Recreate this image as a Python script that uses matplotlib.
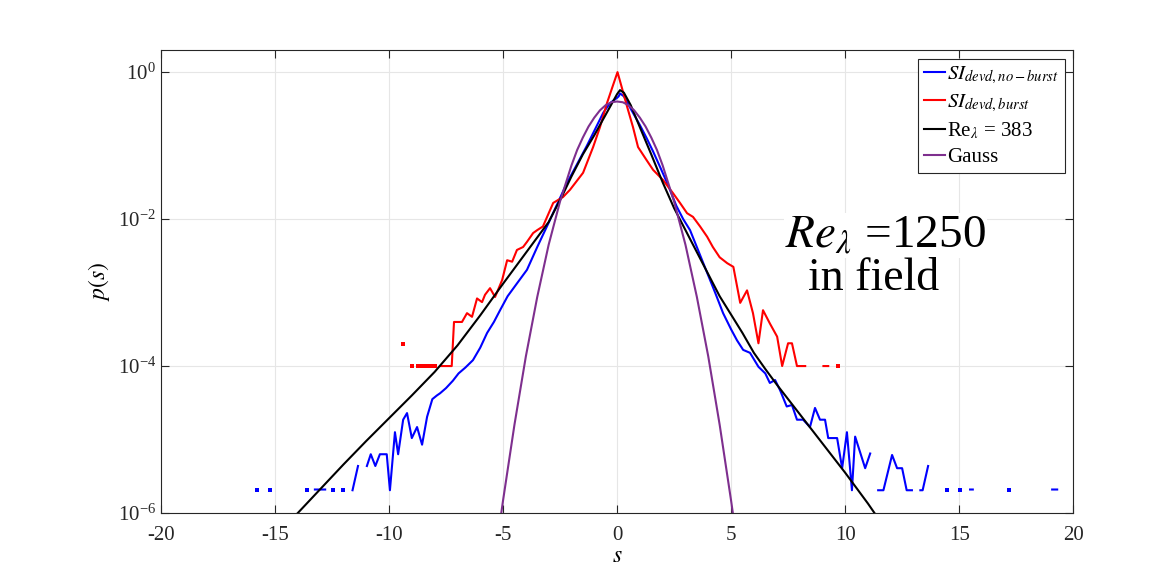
import numpy as np
import matplotlib
matplotlib.use('Agg')
import matplotlib.pyplot as plt

plt.rcParams['font.family'] = ['Liberation Serif', 'DejaVu Serif']
plt.rcParams['mathtext.fontset'] = 'stix'
plt.rcParams['axes.unicode_minus'] = False

nan = np.nan

# SI_devd, no-burst (blue) -- s, log10 p(s); nan = gap
blue_s = [-15.8, nan, -15.2, nan, -13.6, nan, -13.25, -13.0, -12.8, nan, -12.46, nan, -12.0, nan,
          -11.6, -11.36, nan, -10.97, -10.8, -10.6, -10.4, -10.1, -9.96, -9.74, -9.6, -9.38,
          -9.21, -9.0, -8.77, -8.55, -8.33, -8.1, -7.9, -7.76, -7.5, -7.2, -6.95, -6.65,
          -6.32, -6.0, -5.7, -5.4, -5.13, -4.8, -4.4, -3.95, -3.5, -3.0, -2.6, -2.2, -1.8,
          -1.32, -1.0, -0.6, -0.3, 0.0, 0.07, 0.13, 0.3, 0.6, 1.0, 1.3, 1.58, 1.9, 2.2, 2.6,
          2.9, 3.2, 3.55, 3.95, 4.3, 4.65, 5.0, 5.26, 5.53, 5.83, 6.2, 6.5, 6.7, 6.93, 7.15,
          7.44, 7.67, 7.89, 8.16, 8.46, 8.68, 8.9, 9.12, 9.26, 9.65, 9.87, 10.08, 10.3, 10.44,
          10.88, 11.1, nan, 11.45, 11.68, 12.06, 12.28, 12.5, 12.7, 12.93, nan, 13.3, 13.4,
          13.64, nan, 14.47, nan, 15.04, nan, 15.48, 15.6, nan, 17.2, nan, 19.08, 19.3]
blue_logp = [-5.68, nan, -5.68, nan, -5.68, nan, -5.68, -5.68, -5.68, nan, -5.68, nan, -5.68, nan,
             -5.69, -5.36, nan, -5.36, -5.2, -5.36, -5.2, -5.2, -5.69, -4.9, -5.2, -4.73,
             -4.64, -4.98, -4.83, -5.07, -4.69, -4.45, -4.4, -4.37, -4.3, -4.2, -4.1, -4.02,
             -3.92, -3.75, -3.55, -3.4, -3.24, -3.05, -2.88, -2.69, -2.38, -2.05, -1.78, -1.51, -1.28,
             -1.0, -0.8, -0.55, -0.42, -0.35, -0.33, -0.29, -0.33, -0.5, -0.72, -0.9, -1.08, -1.3, -1.51, -1.82,
             -2.0, -2.15, -2.42, -2.73, -3.0, -3.28, -3.5, -3.65, -3.78, -3.82, -4.01, -4.1, -4.23, -4.19, -4.33,
             -4.55, -4.53, -4.73, -4.73, -4.83, -4.57, -4.73, -4.73, -4.98, -4.98, -5.39, -4.9, -5.69, -4.96,
             -5.39, -5.19, nan, -5.69, -5.69, -5.21, -5.39, -5.39, -5.69, -5.69, nan, -5.69, -5.69,
             -5.36, nan, -5.68, nan, -5.68, nan, -5.68, -5.68, nan, -5.68, nan, -5.68, -5.68]

# SI_devd, burst (red)
red_s = [-9.4, nan, -9.0, nan, -8.75, nan, -8.6, nan, -8.45, nan, -8.3, nan, -8.15, nan, -8.0, nan,
         -7.76, -7.5, -7.25, -7.15, -7.02, -6.8, -6.58, -6.36, -6.14, -5.92, -5.79, -5.57, -5.35,
         -5.04, -4.82, -4.6, -4.39, -4.12, -3.95, -3.68, -3.5, -3.25, -2.8, -2.37, -2.06, -1.49,
         -1.05, -0.75, -0.44, -0.2, 0.02, 0.2, 0.44, 0.7, 0.92, 1.3, 1.58, 2.02, 2.46, 2.76, 3.07,
         3.33, 3.64, 3.95, 4.2, 4.5, 4.83, 5.1, 5.4, 5.7, 5.96, 6.2, 6.4, 6.7, 7.02, 7.24, 7.5,
         7.67, 7.89, 8.25, nan, 9.05, 9.26, nan, 9.7]
red_logp = [-3.7, nan, -4.0, nan, -4.0, nan, -4.0, nan, -4.0, nan, -4.0, nan, -4.0, nan, -4.0, nan,
            -4.0, -4.0, -4.0, -3.4, -3.4, -3.4, -3.28, -3.33, -3.08, -3.13, -3.03, -2.94, -3.06,
            -2.83, -2.56, -2.58, -2.42, -2.38, -2.31, -2.19, -2.15, -2.1, -1.78, -1.7, -1.6, -1.37,
            -1.02, -0.75, -0.42, -0.2, 0.0, -0.2, -0.47, -0.75, -1.02, -1.2, -1.33, -1.47, -1.65, -1.78, -1.92,
            -1.97, -2.1, -2.24, -2.38, -2.52, -2.6, -2.65, -3.14, -2.97, -3.28, -3.69, -3.24, -3.42, -3.6, -4.0, -3.69,
            -3.69, -4.0, -4.0, nan, -4.0, -4.0, nan, -4.0]

# Re_lambda = 383 (black)
black_s = [-14.2, -14, -13, -12, -11, -10, -9, -8, -7, -6, -5, -4, -3, -2.4, -2, -1.5, -1, -0.5,
           0, 0.13, 0.3, 0.6, 1, 1.5, 2, 2.5, 3, 3.5, 4, 4.5, 5, 5.5, 6, 6.5, 7, 8, 9, 10, 11, 11.4]
black_logp = [-6.06, -6.0, -5.67, -5.34, -5.02, -4.71, -4.4, -4.08, -3.72, -3.31, -2.88, -2.46, -2.04,
              -1.68, -1.42, -1.12, -0.86, -0.58, -0.3, -0.245, -0.28, -0.45, -0.75, -1.12, -1.5, -1.85,
              -2.15, -2.45, -2.75, -3.05, -3.3, -3.55, -3.82, -4.04, -4.25, -4.65, -5.05, -5.45, -5.87, -6.05]

# Gauss (purple)
gauss_s = [-5.1, -5.0, -4.5, -4.0, -3.5, -3.0, -2.5, -2.0, -1.75, -1.5, -1.25, -1.0, -0.75, -0.5,
           -0.25, 0.0, 0.25, 0.5, 0.75, 1.0, 1.25, 1.5, 1.75, 2.0, 2.5, 3.0, 3.5, 4.0, 4.5, 5.0, 5.1]
gauss_logp = [-6.05, -5.83, -4.80, -3.87, -3.06, -2.35, -1.76, -1.27, -1.06, -0.89, -0.74, -0.62,
              -0.52, -0.45, -0.41, -0.40, -0.41, -0.45, -0.52, -0.62, -0.74, -0.89, -1.06, -1.27,
              -1.76, -2.35, -3.06, -3.87, -4.80, -5.83, -6.05]


def isolated(s, lp):
    # points with gaps on both sides show up only as dots
    xs, ys = [], []
    for i in range(len(s)):
        if np.isnan(s[i]):
            continue
        left = i == 0 or np.isnan(s[i - 1])
        right = i == len(s) - 1 or np.isnan(s[i + 1])
        if left and right:
            xs.append(s[i])
            ys.append(10 ** lp[i])
    return xs, ys


fig = plt.figure(figsize=(11.69, 5.72), dpi=100)
ax = fig.add_axes([0.1377, 0.1031, 0.7803, 0.8095])

ax.plot(blue_s, 10 ** np.array(blue_logp), color='#0000ff', lw=1.5, label=r'$SI_{devd,no-burst}$')
ax.plot(red_s, 10 ** np.array(red_logp), color='#ff0000', lw=1.5, label=r'$SI_{devd,burst}$')
ax.plot(black_s, 10 ** np.array(black_logp), color='black', lw=1.5, label=r'Re$_\lambda$ = 383')
ax.plot(gauss_s, 10 ** np.array(gauss_logp), color='#7e2f8e', lw=1.5, label='Gauss')

bx, by = isolated(blue_s, blue_logp)
ax.plot(bx, by, ls='none', marker='s', ms=2.5, color='#0000ff', mew=0)
rx, ry = isolated(red_s, red_logp)
ax.plot(rx, ry, ls='none', marker='s', ms=2.5, color='#ff0000', mew=0)

ax.set_yscale('log')
ax.set_xlim(-20, 20)
ax.set_ylim(1e-6, 2)
ax.set_xticks([-20, -15, -10, -5, 0, 5, 10, 15, 20])
ax.set_yticks([1e-6, 1e-4, 1e-2, 1])
ax.yaxis.set_minor_locator(matplotlib.ticker.NullLocator())
ax.grid(True, color='#e6e6e6', lw=0.8)
ax.set_axisbelow(True)
ax.tick_params(direction='in', top=True, right=True, labelsize=15, colors='#262626',
               length=6, width=0.8)
ax.tick_params(axis='x', pad=9)
for sp in ax.spines.values():
    sp.set_color('#262626')
    sp.set_linewidth(0.8)

ax.set_xlabel(r'$s$', fontsize=17, labelpad=1)
ax.set_ylabel(r'$p(s)$', fontsize=17, labelpad=4)

leg = ax.legend(loc='upper right', bbox_to_anchor=(0.996, 0.99), fontsize=15, handlelength=1.0,
                handletextpad=0.1, labelspacing=0.3, borderpad=0.3, borderaxespad=0.2,
                fancybox=False, framealpha=1, edgecolor='#262626')
leg.get_frame().set_linewidth(0.8)

fig.text(785 / 1169, 1 - 247 / 572, r'$Re_\lambda$ =1250', fontsize=34, color='black',
         bbox=dict(facecolor='white', edgecolor='none', pad=1))
fig.text(808 / 1169, 1 - 290 / 572, 'in field', fontsize=33, color='black')

fig.savefig('out.png', dpi=100)
